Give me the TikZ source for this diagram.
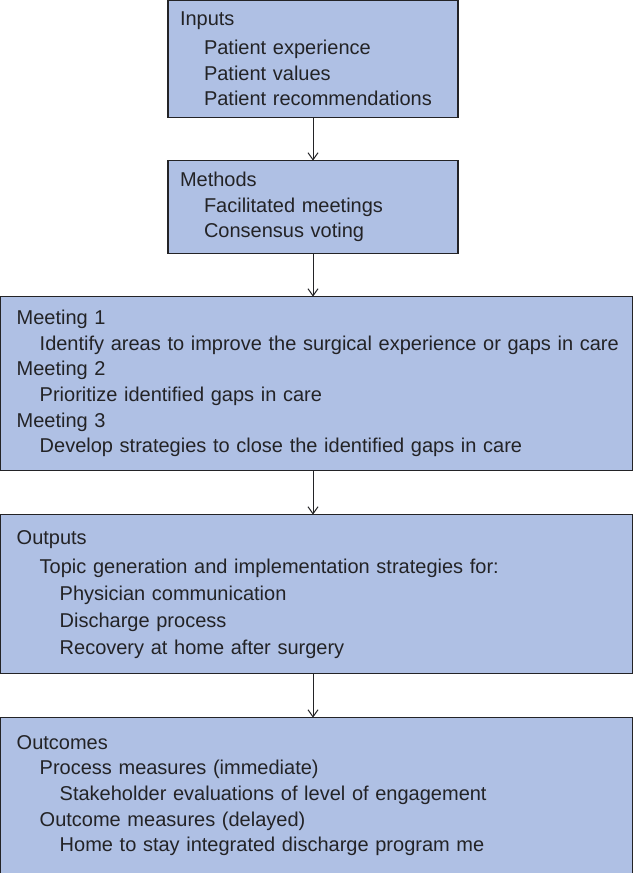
\documentclass[tikz,border=0pt]{standalone}
\usepackage{fontspec}
\setmainfont{Liberation Sans}
\usetikzlibrary{positioning,arrows.meta}

\definecolor{boxblue}{RGB}{175,192,228}
\definecolor{inkgray}{RGB}{35,35,38}

\newcommand{\pad}[1]{\hspace*{#1pt}}

\tikzset{
    stage/.style={draw=inkgray, line width=1.2pt, fill=boxblue, text=inkgray,
        align=left, inner xsep=0pt, inner ysep=0pt, outer sep=0pt,
        font=\fontsize{20}{25.6}\selectfont},
    narrowstage/.style={stage, text width=290pt},
    widestage/.style={stage, text width=631.6pt},
    flow/.style={-{Straight Barb[length=7pt,width=10pt]}, line width=1pt, draw=inkgray}
}

\begin{document}
\begin{tikzpicture}[x=1pt, y=-1pt]
            \useasboundingbox (0,0) rectangle (633,873);

            \node[narrowstage, minimum height=117pt, anchor=north] (inputs) at (313,0.6) {
                \pad{12}Inputs\\[3pt]
                \pad{36}Patient experience\\
                \pad{36}Patient values\\
                \pad{36}Patient recommendations
            };

            \node[narrowstage, minimum height=93pt, below=43pt of inputs] (methods) {
                \pad{12}Methods\\
                \pad{36}Facilitated meetings\\
                \pad{36}Consensus voting
            };

            \node[widestage, minimum height=174pt, below=43pt of methods, xshift=3.5pt] (meetings) {
                \pad{16}Meeting 1\\
                \pad{39}Identify areas to improve the surgical experience or gaps in care\\
                \pad{16}Meeting 2\\
                \pad{39}Prioritize identified gaps in care\\
                \pad{16}Meeting 3\\
                \pad{39}Develop strategies to close the identified gaps in care
            };

            \node[widestage, minimum height=159pt, below=44pt of meetings,
                font=\fontsize{20}{27}\selectfont] (outputs) {
                \pad{16}Outputs\\[2pt]
                \pad{39}Topic generation and implementation strategies for:\\
                \pad{59}Physician communication\\
                \pad{59}Discharge process\\
                \pad{59}Recovery at home after surgery
            };

            \node[widestage, minimum height=156pt, below=44pt of outputs] (outcomes) {
                \pad{16}Outcomes\\
                \pad{39}Process measures (immediate)\\
                \pad{59}Stakeholder evaluations of level of engagement\\
                \pad{39}Outcome measures (delayed)\\
                \pad{59}Home to stay integrated discharge program me
            };

            \draw [flow] (inputs) -- (methods);
            \draw [flow] (methods) -- (methods |- meetings.north);
            \draw [flow] (meetings.south -| methods) -- (outputs.north -| methods);
            \draw [flow] (outputs.south -| methods) -- (outcomes.north -| methods);

        \end{tikzpicture}
\end{document}
